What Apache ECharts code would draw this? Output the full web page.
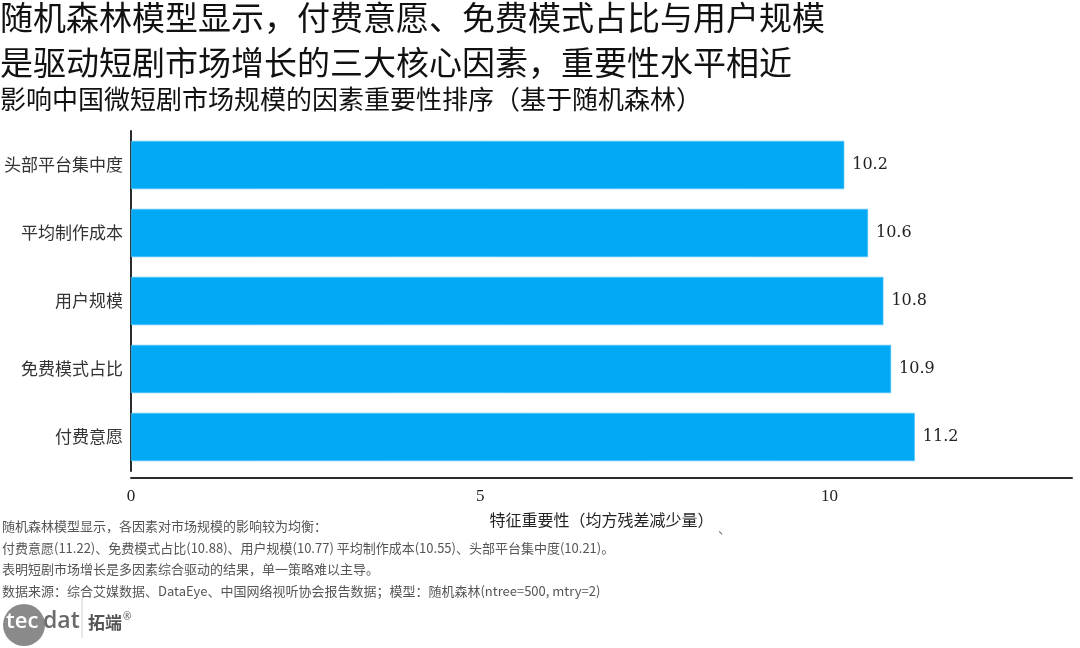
<!DOCTYPE html>
<html>
<head>
<meta charset="utf-8">
<script src="https://cdn.jsdelivr.net/npm/echarts@6/dist/echarts.min.js"></script>
<style>
html,body{margin:0;padding:0;background:#fff;}
#chart{width:1080px;height:648px;}
</style>
</head>
<body>
<div id="chart"></div>
<script>
// Data (bottom to top on the category axis)
const categories = ['付费意愿', '免费模式占比', '用户规模', '平均制作成本', '头部平台集中度'];
const importance = [11.22, 10.88, 10.77, 10.55, 10.21];
const xTickInterval = 5;
const xMax = 13.47;

const titleLines = ['随机森林模型显示，付费意愿、免费模式占比与用户规模', '是驱动短剧市场增长的三大核心因素，重要性水平相近'];
const subtitle = '影响中国微短剧市场规模的因素重要性排序（基于随机森林）';
const xAxisName = '特征重要性（均方残差减少量）';
const notes = [
  '随机森林模型显示，各因素对市场规模的影响较为均衡：',
  '付费意愿(11.22)、免费模式占比(10.88)、用户规模(10.77) 平均制作成本(10.55)、头部平台集中度(10.21)。',
  '表明短剧市场增长是多因素综合驱动的结果，单一策略难以主导。',
  '数据来源：综合艾媒数据、DataEye、中国网络视听协会报告数据；模型：随机森林(ntree=500, mtry=2)'
];

const CJK = "'Noto Sans CJK SC', sans-serif";
const SERIF_NUM = "'Liberation Serif', 'Noto Sans CJK SC', serif";
const SERIF_LABEL = "'DejaVu Serif', 'Noto Sans CJK SC', serif";

const chart = echarts.init(document.getElementById('chart'), null, {renderer: 'canvas'});
chart.setOption({
  backgroundColor: '#ffffff',
  animation: false,
  title: [
    {
      text: titleLines.join('\n'),
      left: 0, top: -5, padding: 0,
      textStyle: {fontFamily: CJK, fontSize: 33, fontWeight: 'normal', color: '#111', lineHeight: 45}
    },
    {
      text: subtitle,
      left: 0, top: 84, padding: 0,
      textStyle: {fontFamily: CJK, fontSize: 26, fontWeight: 'normal', color: '#111', lineHeight: 30}
    }
  ],
  grid: {left: 131, right: 8, top: 131, bottom: 177, containLabel: false},
  xAxis: {
    type: 'value',
    min: 0, max: xMax, interval: xTickInterval,
    offset: 7,
    axisLine: {show: true, lineStyle: {color: '#2b2b2b', width: 2}},
    axisTick: {show: false},
    splitLine: {show: false},
    axisLabel: {show: true, showMaxLabel: false, margin: 10, fontFamily: SERIF_NUM, fontSize: 17, color: '#222'},
    name: xAxisName,
    nameLocation: 'middle',
    nameGap: 34,
    nameTextStyle: {fontFamily: CJK, fontSize: 16, color: '#222'}
  },
  yAxis: {
    type: 'category',
    data: categories,
    axisLine: {show: true, lineStyle: {color: '#2b2b2b', width: 2}},
    axisTick: {show: false},
    splitLine: {show: false},
    axisLabel: {margin: 8, fontFamily: CJK, fontSize: 17, color: '#333'}
  },
  series: [{
    type: 'bar',
    data: importance,
    barCategoryGap: '29%',
    itemStyle: {color: '#03A9F4', borderColor: '#4FC3F7', borderWidth: 0.6},
    label: {
      show: true, position: 'right', distance: 8,
      fontFamily: SERIF_LABEL, fontSize: 16, color: '#222',
      formatter: p => p.value.toFixed(1)
    }
  }],
  graphic: [
    ...notes.map((t, i) => ({
      type: 'text', left: 2, top: 520 + i * 21.5,
      style: {text: t, font: "13px 'Noto Sans CJK SC', sans-serif", fill: '#555'}
    })),
    {type: 'text', left: 718, top: 522, style: {text: '、', font: "13px 'Noto Sans CJK SC', sans-serif", fill: '#777'}},
    {type: 'circle', shape: {cx: 24, cy: 625, r: 21}, style: {fill: '#8a8a8a'}},
    {type: 'text', left: 6, top: 611, style: {text: 'tec', font: "600 22px 'Open Sans', sans-serif", fill: '#fff'}},
    {type: 'text', left: 43, top: 610, style: {text: 'dat', font: "600 23px 'Open Sans', sans-serif", fill: '#6a6a6a'}},
    {type: 'line', shape: {x1: 82, y1: 598, x2: 82, y2: 638}, style: {stroke: '#cfcfcf', lineWidth: 1}},
    {type: 'text', left: 88, top: 614, style: {text: '拓端', font: "bold 17px 'Noto Sans CJK SC', sans-serif", fill: '#555'}},
    {type: 'text', left: 123, top: 612, style: {text: '®', font: "10px 'Noto Sans', sans-serif", fill: '#555'}}
  ]
});
</script>
</body>
</html>
